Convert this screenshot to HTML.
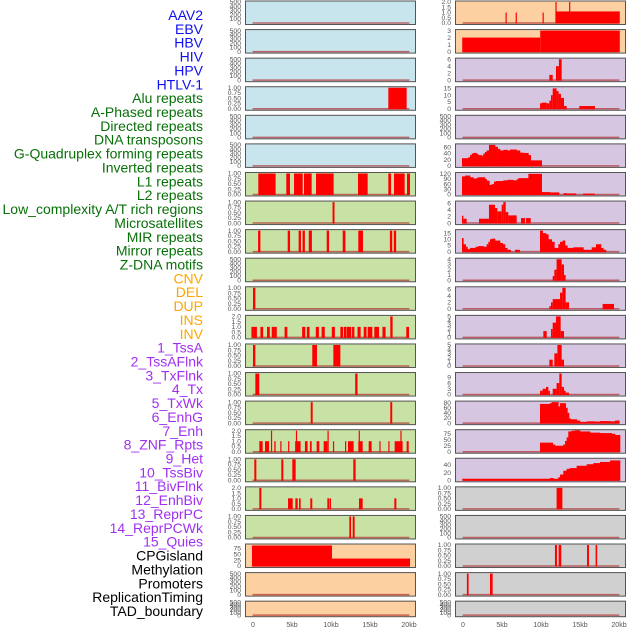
<!DOCTYPE html>
<html><head><meta charset="utf-8"><style>
body{margin:0;background:#fff;width:630px;height:630px;overflow:hidden}
svg{display:block}
.lab{font-family:"Liberation Sans",sans-serif;font-size:14px}
.tk{font-family:"Liberation Sans",sans-serif;font-size:6.8px;fill:#555}
.xt{font-family:"Liberation Sans",sans-serif;font-size:7px;fill:#555}
</style></head><body>
<svg id="chart" width="630" height="630"></svg>
<script>
const labels=["AAV2","EBV","HBV","HIV","HPV","HTLV-1","Alu repeats","A-Phased repeats","Directed repeats","DNA transposons","G-Quadruplex forming repeats","Inverted repeats","L1 repeats","L2 repeats","Low_complexity A/T rich regions","Microsatellites","MIR repeats","Mirror repeats","Z-DNA motifs","CNV","DEL","DUP","INS","INV","1_TssA","2_TssAFlnk","3_TxFlnk","4_Tx","5_TxWk","6_EnhG","7_Enh","8_ZNF_Rpts","9_Het","10_TssBiv","11_BivFlnk","12_EnhBiv","13_ReprPC","14_ReprPCWk","15_Quies","CPGisland","Methylation","Promoters","ReplicationTiming","TAD_boundary"];
const labelColors=Array(6).fill("#1010ee").concat(Array(13).fill("#087008"),Array(5).fill("#ffa500"),Array(15).fill("#a030f0"),Array(5).fill("#000"));
const xTickValues=[0,5,10,15,20];
const xTickLabels=["0","5kb","10kb","15kb","20kb"];
const T500=[0,100,200,300,400,500],T1=[0,0.25,0.5,0.75,1],T2=[0,0.5,1,1.5,2];
const leftPanels=[
{bg:"b",top:500,ticks:T500,seg:[]},
{bg:"b",top:500,ticks:T500,seg:[]},
{bg:"b",top:500,ticks:T500,seg:[]},
{bg:"b",top:1,ticks:T1,seg:[[17.35,19.7,1]]},
{bg:"b",top:500,ticks:T500,seg:[]},
{bg:"b",top:500,ticks:T500,seg:[]},
{bg:"g",top:1,ticks:T1,seg:[[0.68,2.9,1],[4.27,4.74,1],[5.26,6.37,1],[6.54,7.52,1],[8.08,10.34,1],[13.46,14.7,1],[17.35,17.7,1],[18.08,19.44,1],[19.74,20.13,1]]},
{bg:"g",top:1,ticks:T1,seg:[[10.2,10.45,1]]},
{bg:"g",top:1,ticks:T1,seg:[[0.65,0.95,1],[4.45,4.75,1],[5.85,6.15,1],[6.35,6.65,1],[7.15,7.55,1],[9.45,9.75,1],[11.5,11.85,1],[13.5,14.1,1],[17.55,17.85,1],[18.05,18.35,1]]},
{bg:"g",top:500,ticks:T500,seg:[]},
{bg:"g",top:1,ticks:T1,seg:[[0,0.3,1]]},
{bg:"g",top:2,ticks:T2,seg:[[-0.2,0.12,1],[0.12,0.5,1],[0.95,1.3,1],[1.8,2.15,1],[2.4,2.75,1],[2.75,3.05,1],[4.05,4.4,1],[6.3,6.7,1],[6.9,7.25,1],[8.05,8.45,1],[8.8,9.2,1],[10.1,10.5,1],[11.2,11.55,1],[11.65,11.95,1],[12.0,12.35,1],[12.3,12.6,1],[12.7,13.0,1],[13.4,13.8,1],[14.2,14.55,1],[14.7,15.05,1],[15.0,15.3,1],[15.55,15.9,1],[15.85,16.15,1],[16.6,17.0,1],[17.6,17.9,2],[19.65,20.0,1]]},
{bg:"g",top:1,ticks:T1,seg:[[0,0.3,1],[7.6,8.2,1],[10.3,11.2,1]]},
{bg:"g",top:1,ticks:T1,seg:[[0.3,0.8,1],[13.1,13.4,1]]},
{bg:"g",top:1,ticks:T1,seg:[[7.4,7.65,1],[17.6,17.85,1]]},
{bg:"g",top:2,ticks:T2,seg:[[0.81,1.24,1],[1.54,2.05,1],[2.3,2.45,2],[2.73,2.9,1],[3.5,3.65,1],[4.5,4.65,1],[5.4,6.1,1],[5.5,5.65,2],[6.66,7.0,1],[7.3,7.52,1],[8.16,8.5,1],[9.06,9.53,1],[9.55,9.7,2],[10.25,10.4,1],[11.8,11.95,1],[12.18,12.9,1],[13.5,14.06,1],[13.55,13.7,2],[14.83,15.21,1],[16.2,16.35,1],[17.35,17.5,1],[18.16,19.18,1],[18.9,19.05,2],[19.7,19.96,1]]},
{bg:"g",top:1,ticks:T1,seg:[[0.17,0.43,1],[3.63,3.89,1],[5.04,5.47,1],[12.86,13.16,1]]},
{bg:"g",top:2,ticks:T2,seg:[[0.81,1.07,2],[4.49,5.09,1],[5.43,5.73,1],[5.9,6.11,1],[7.35,7.6,1],[9.53,9.79,1],[9.85,10.0,1],[13.59,14.06,1],[18.12,18.38,1]]},
{bg:"g",top:1,ticks:T1,seg:[[12.35,12.57,1],[12.78,13.03,1]]},
{bg:"o",top:90,ticks:[0,25,50,75],seg:[[-0.13,10.13,88],[10.13,20.13,32]]},
{bg:"o",top:500,ticks:T500,seg:[]},
{bg:"o",top:500,ticks:T500,seg:[]}
];
const rightPanels=[
{bg:"o",top:2,ticks:T2,seg:[[5.45,5.6,1],[6.75,6.9,1],[10.2,10.35,1],[11.85,12.0,2],[13.6,13.75,2],[11.85,20.1,1.1]]},
{bg:"o",top:3,ticks:[0,1,2,3],seg:[[-0.1,9.9,2],[9.9,20.1,3]]},
{bg:"p",top:6,ticks:[0,2,4,6],seg:[[11.07,11.5,1.5],[11.92,12.3,4],[12.3,12.65,6]]},
{bg:"p",top:15.5,ticks:[0,5,10,15],seg:[[9.87,10.13,4],[10.13,10.73,4.5],[10.73,11.07,4],[11.07,11.28,6],[11.28,11.5,10],[11.5,12.0,15],[12.0,12.26,13],[12.26,12.56,11],[12.56,12.95,8],[12.95,13.29,2],[14.91,16.92,2]]},
{bg:"p",top:500,ticks:T500,seg:[]},
{bg:"p",top:68,ticks:[0,20,40,60],seg:[],runs:[{x:[-0.13,0.68,0.9,1.11,1.32,1.75,1.97,2.39,2.6,2.82,3.03,3.33,4.1,4.44,4.74,5.17,5.68,6.03,6.88,7.3,7.74,8.38,8.68,10.09],y:[25,28,35,40,42,38,35,33,40,45,50,68,62,55,50,52,50,53,50,43,42,35,18]}]},
{bg:"p",top:122,ticks:[0,30,60,90,120],seg:[[10.09,11.2,14],[11.2,12.35,12],[12.9,13.3,8],[13.3,14.5,6],[15.4,16.9,5]],runs:[{x:[-0.13,0.26,0.9,1.32,1.75,1.97,2.82,3.03,3.38,3.68,3.97,4.23,5.17,5.68,6.45,6.88,7.09,8.38,10.09],y:[105,110,100,93,97,100,90,80,55,60,75,78,82,85,82,88,95,120]}]},
{bg:"p",top:6.3,ticks:[0,2,4,6],seg:[[-0.13,0.04,2.2],[0.04,0.47,1.3],[2.05,3.33,1.3],[3.33,4.1,5.5],[4.1,4.4,4.5],[4.4,4.96,3.5],[4.96,5.17,5.5],[5.17,5.47,6.3],[5.47,5.81,3.3],[5.81,6.88,2.3],[7.44,7.95,1.5],[8.08,8.68,1.5]]},
{bg:"p",top:17,ticks:[0,5,10,15],seg:[[6.67,7.3,1.5]],runs:[{x:[-0.13,0.04,0.34,0.56,0.9,1.62,1.97,2.61,3.03,3.25,3.46,3.68,4.1,4.74,5.09,5.38,5.68,6.11],y:[11,6,4,2,3,4,4.5,4,6,8,10,10.5,9,7,6,3,1.5]},{x:[9.87,10.21,10.64,10.94,11.37,11.71,12.22,12.44,12.78,13.08,13.38,14.15,15.43,16.5,17.05,17.69,17.99,18.33],y:[17,15,14,10,8,3,6,8,9,5,3,3.5,1.5,3.5,6,3,1.5]}]},
{bg:"p",top:4,ticks:[0,1,2,3,4],seg:[[11.5,11.71,0.8],[11.71,12.0,2],[12.0,12.65,4],[12.65,12.95,3],[12.95,13.16,1]]},
{bg:"p",top:6.5,ticks:[0,2,4,6],seg:[[11.07,11.28,0.8],[11.28,11.5,2],[11.5,12.44,3],[12.44,12.74,5],[12.74,13.16,6.5],[13.16,13.59,2],[17.9,19.36,1.5]]},
{bg:"p",top:5,ticks:[0,1,2,3,4,5],seg:[[10.3,10.73,1.5],[11.28,11.5,2],[11.5,11.92,3.5],[11.92,12.52,5],[12.52,12.95,1.5]]},
{bg:"p",top:5,ticks:[0,1,2,3,4,5],seg:[[11.07,11.5,1.5],[11.71,12.1,3],[12.1,12.65,5],[12.65,12.95,1.5]]},
{bg:"p",top:11,ticks:[0,3,6,9],seg:[[9.87,10.21,2],[10.21,10.64,3],[10.64,10.94,4],[10.94,11.15,2],[11.5,12.0,3],[12.0,12.35,6],[12.35,12.65,11],[12.65,12.95,4],[12.95,13.16,2],[13.16,13.59,1]]},
{bg:"p",top:82,ticks:[0,20,40,60,80],seg:[],runs:[{x:[9.87,11.15,11.37,12.22,12.44,13.16,13.38,13.59,13.8,14.57,15.0,15.85,16.92,17.56,18.85,19.49,20.04],y:[75,78,82,65,78,60,40,18,15,10,5,7,6,8,7,10]}]},
{bg:"p",top:88,ticks:[0,25,50,75],seg:[],runs:[{x:[9.87,11.5,11.79,12.86,13.08,13.29,13.5,13.93,14.36,15.0,16.28,17.56,19.06,19.49,20.13],y:[38,30,25,30,45,60,85,88,90,85,80,78,75,70]}]},
{bg:"p",top:55,ticks:[0,20,40],seg:[],runs:[{x:[-0.09,11.15,11.58,12.22,12.44,12.86,13.29,13.72,14.57,15.85,16.71,17.56,18.85,20.13],y:[4,6,4,8,15,25,30,32,38,42,45,48,52]}]},
{bg:"gr",top:1,ticks:T1,seg:[[12.0,12.74,1]]},
{bg:"gr",top:500,ticks:T500,seg:[]},
{bg:"gr",top:1,ticks:T1,seg:[[11.79,12.05,1],[12.26,12.6,1],[15.9,16.15,1],[17.0,17.2,1]]},
{bg:"gr",top:1,ticks:T1,seg:[[0.5,0.72,1],[3.46,3.8,1]]},
{bg:"gr",top:500,ticks:T500,seg:[]}
];
const BG={b:"#c8e4ec",g:"#c8e1a5",o:"#fdd0a2",p:"#d6c6e2",gr:"#d0d0d0"};
const NS="http://www.w3.org/2000/svg";
const svg=document.getElementById("chart");
function mk(tag,at,parent){const e=document.createElementNS(NS,tag);for(const k in at)e.setAttribute(k,at[k]);(parent||svg).appendChild(e);return e;}
labels.forEach((t,i)=>{
  const e=mk("text",{x:203,y:20+i*13.86,"text-anchor":"end",fill:labelColors[i],class:"lab"});
  e.textContent=t;
  
  
});
function drawColumn(panels,x0,colName){
  const W=171,pxPerKb=7.8,zeroX=x0+8;
  const xs=v=>zeroX+v*pxPerKb;
  panels.forEach((p,i)=>{
    const top=0.5+i*28.58, h=(i===21)?16.5:24.5, bottom=top+h;
    const g=mk("g",{});
    
    
    const y0=bottom-2, y1=top+1.5;
    const ys=v=>y0-(v/p.top)*(y0-y1);
    const cid=colName+"clip"+i;
    const cp=mk("clipPath",{id:cid},g);mk("rect",{x:x0,y:top,width:W,height:h},cp);
    mk("rect",{x:x0,y:top,width:W,height:h,fill:BG[p.bg]},g);
    const dg=mk("g",{"clip-path":"url(#"+cid+")"},g);
    mk("line",{x1:xs(-0.05),x2:xs(20.05),y1:y0,y2:y0,stroke:"#b03030","stroke-width":1.5,"stroke-opacity":0.7},dg);
    p.seg.forEach(s=>{
      const r=mk("rect",{x:xs(s[0]),y:ys(s[2]),width:Math.max(1.2,xs(s[1])-xs(s[0])),height:y0-ys(s[2])+0.5,fill:"#ff0000"},dg);
      
      
    });
    (p.runs||[]).forEach(run=>{
      for(let k=0;k<run.y.length;k++){
        const r=mk("rect",{x:xs(run.x[k]),y:ys(run.y[k]),width:xs(run.x[k+1])-xs(run.x[k])+0.3,height:y0-ys(run.y[k])+0.5,fill:"#ff0000"},dg);
        
        
      }
    });
    mk("rect",{x:x0+0.5,y:top+0.5,width:W-1,height:h-1,fill:"none",stroke:"#555","stroke-width":1},g);
    p.ticks.forEach(v=>{
      const t=mk("text",{x:x0-4,y:ys(v)+2.2,"text-anchor":"end",class:"tk"},g);
      t.textContent=(p.ticks===T1)?v.toFixed(2):(p.ticks===T2?v.toFixed(1):String(v));
      
      
    });
  });
  xTickValues.forEach((v,k)=>{
    const t=mk("text",{x:xs(v),y:627,"text-anchor":"middle",class:"xt"});
    t.textContent=xTickLabels[k];
    
    
  });
}
drawColumn(leftPanels,245,"left");
drawColumn(rightPanels,455,"right");
</script>
</body></html>
